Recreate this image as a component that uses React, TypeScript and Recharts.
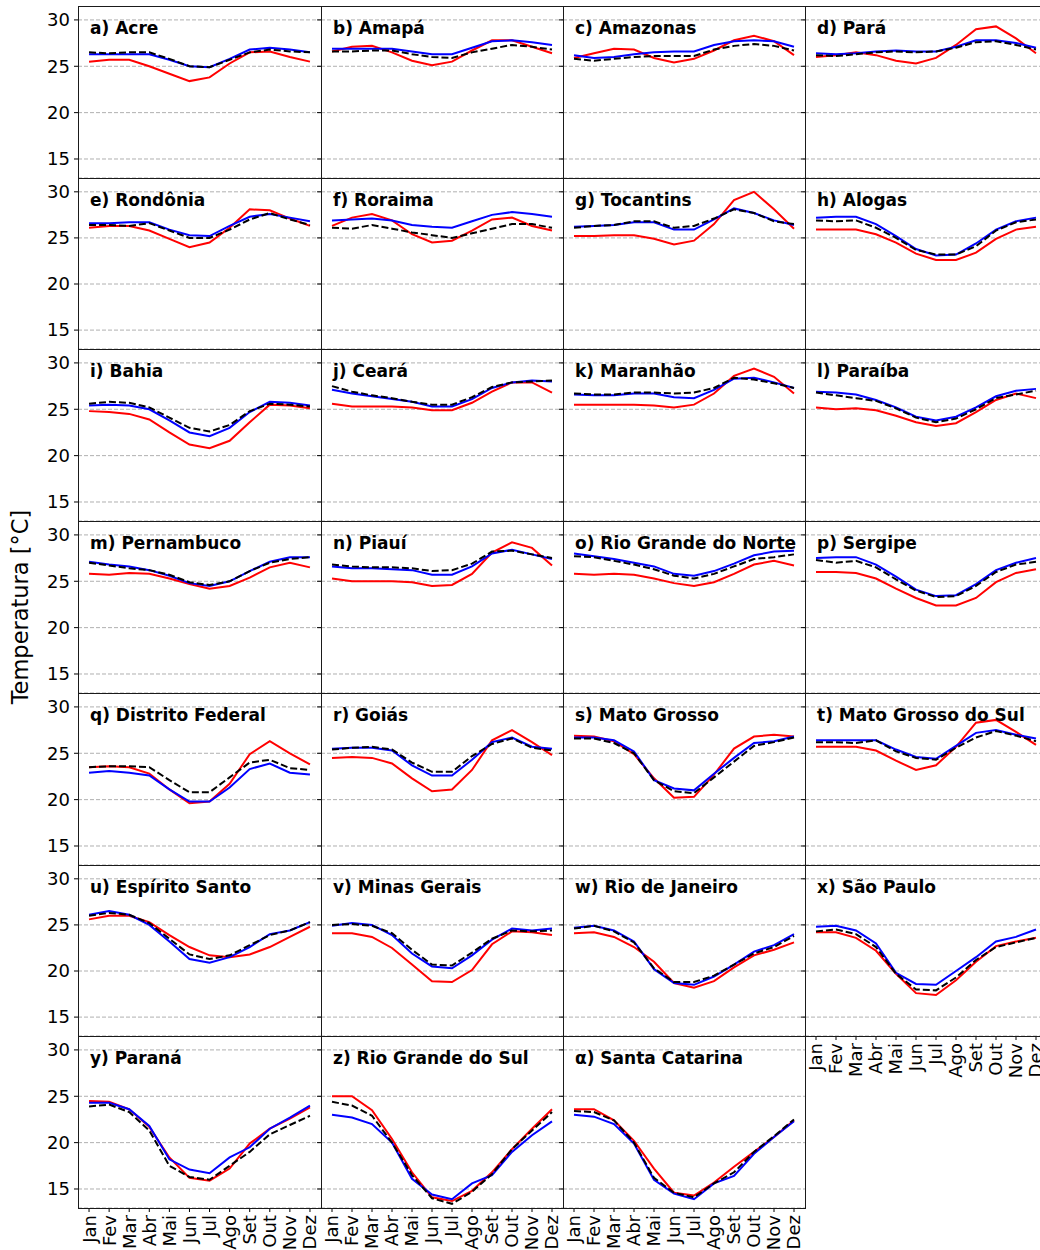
import React from 'react';
import { LineChart, Line, XAxis, YAxis, CartesianGrid } from 'recharts';

const months = ['Jan', 'Fev', 'Mar', 'Abr', 'Mai', 'Jun', 'Jul', 'Ago', 'Set', 'Out', 'Nov', 'Dez'];
const monthIdx = months.map((_, i) => i);
const yTicks = [15, 20, 25, 30];

// red / blue / black dashed series per state (monthly mean temperature, °C)
const acreRed = [25.5, 25.7, 25.7, 25.0, 24.2, 23.4, 23.8, 25.3, 26.5, 26.6, 26.0, 25.5];
const acreBlue = [26.3, 26.3, 26.3, 26.3, 25.7, 25.0, 24.9, 25.8, 26.8, 27.0, 26.8, 26.5];
const acreBlack = [26.5, 26.4, 26.5, 26.5, 25.8, 25.0, 24.9, 25.7, 26.5, 26.8, 26.6, 26.5];

const amapaRed = [26.6, 27.1, 27.2, 26.5, 25.6, 25.1, 25.5, 26.7, 27.8, 27.8, 27.1, 26.4];
const amapaBlue = [26.9, 26.9, 26.9, 26.9, 26.6, 26.3, 26.3, 27.0, 27.7, 27.8, 27.6, 27.3];
const amapaBlack = [26.6, 26.6, 26.7, 26.7, 26.3, 26.0, 25.9, 26.5, 26.9, 27.3, 27.1, 26.8];

const amazonasRed = [25.9, 26.4, 26.9, 26.8, 25.9, 25.4, 25.8, 26.7, 27.8, 28.3, 27.7, 26.2];
const amazonasBlue = [26.2, 25.9, 26.0, 26.3, 26.5, 26.6, 26.6, 27.3, 27.7, 27.8, 27.7, 27.1];
const amazonasBlack = [25.8, 25.6, 25.8, 26.0, 26.1, 26.1, 26.1, 26.8, 27.2, 27.4, 27.2, 26.7];

const paraRed = [26.0, 26.2, 26.5, 26.2, 25.6, 25.3, 25.9, 27.3, 29.0, 29.3, 28.0, 26.4];
const paraBlue = [26.4, 26.3, 26.4, 26.6, 26.7, 26.6, 26.6, 27.1, 27.8, 27.8, 27.5, 27.0];
const paraBlack = [26.2, 26.1, 26.3, 26.5, 26.6, 26.5, 26.6, 27.0, 27.6, 27.7, 27.3, 26.8];

const rondoniaRed = [26.1, 26.3, 26.3, 25.8, 24.9, 24.0, 24.5, 26.1, 28.1, 28.0, 27.1, 26.3];
const rondoniaBlue = [26.6, 26.6, 26.7, 26.7, 25.9, 25.3, 25.2, 26.3, 27.3, 27.6, 27.2, 26.8];
const rondoniaBlack = [26.4, 26.4, 26.3, 26.6, 25.8, 25.0, 25.0, 25.9, 27.0, 27.7, 27.0, 26.4];

const roraimaRed = [26.3, 27.2, 27.6, 26.9, 25.4, 24.5, 24.7, 25.8, 27.0, 27.2, 26.3, 25.8];
const roraimaBlue = [26.9, 27.0, 27.1, 26.9, 26.4, 26.2, 26.1, 26.8, 27.5, 27.8, 27.6, 27.3];
const roraimaBlack = [26.1, 26.0, 26.4, 26.0, 25.6, 25.3, 25.0, 25.5, 26.0, 26.5, 26.5, 26.1];

const tocantinsRed = [25.2, 25.2, 25.3, 25.3, 24.9, 24.3, 24.7, 26.5, 29.1, 30.0, 28.1, 26.0];
const tocantinsBlue = [26.2, 26.3, 26.4, 26.7, 26.7, 25.9, 25.9, 27.0, 28.2, 27.7, 26.9, 26.4];
const tocantinsBlack = [26.1, 26.3, 26.4, 26.8, 26.8, 26.1, 26.3, 27.1, 28.1, 27.7, 26.8, 26.5];

const alagoasRed = [25.9, 25.9, 25.9, 25.4, 24.5, 23.3, 22.6, 22.6, 23.4, 24.9, 25.9, 26.2];
const alagoasBlue = [27.2, 27.3, 27.3, 26.5, 25.2, 23.8, 23.1, 23.2, 24.4, 25.9, 26.8, 27.2];
const alagoasBlack = [26.9, 26.8, 26.9, 26.1, 25.0, 23.7, 23.2, 23.2, 24.1, 25.8, 26.7, 27.0];

const bahiaRed = [24.8, 24.7, 24.5, 23.9, 22.5, 21.2, 20.8, 21.6, 23.6, 25.5, 25.4, 25.1];
const bahiaBlue = [25.4, 25.5, 25.4, 25.0, 23.8, 22.5, 22.1, 23.0, 24.7, 25.8, 25.7, 25.4];
const bahiaBlack = [25.6, 25.8, 25.7, 25.2, 24.1, 23.0, 22.6, 23.3, 24.8, 25.6, 25.5, 25.3];

const cearaRed = [25.6, 25.3, 25.3, 25.3, 25.2, 24.9, 24.9, 25.7, 26.9, 27.9, 27.9, 26.8];
const cearaBlue = [27.1, 26.7, 26.4, 26.1, 25.8, 25.3, 25.3, 26.1, 27.3, 27.9, 28.1, 28.0];
const cearaBlack = [27.5, 26.9, 26.5, 26.2, 25.8, 25.5, 25.5, 26.3, 27.4, 27.9, 28.0, 28.1];

const maranhaoRed = [25.5, 25.5, 25.5, 25.5, 25.4, 25.2, 25.5, 26.7, 28.6, 29.4, 28.5, 26.7];
const maranhaoBlue = [26.6, 26.5, 26.5, 26.7, 26.7, 26.3, 26.2, 27.1, 28.3, 28.4, 27.9, 27.3];
const maranhaoBlack = [26.7, 26.6, 26.6, 26.8, 26.8, 26.7, 26.8, 27.3, 28.4, 28.2, 27.8, 27.3];

const paraibaRed = [25.2, 25.0, 25.1, 24.9, 24.3, 23.6, 23.2, 23.5, 24.7, 26.0, 26.7, 26.2];
const paraibaBlue = [26.9, 26.8, 26.6, 26.0, 25.2, 24.2, 23.8, 24.2, 25.2, 26.4, 27.0, 27.2];
const paraibaBlack = [26.8, 26.5, 26.2, 25.9, 25.1, 24.1, 23.6, 24.0, 25.0, 26.2, 26.6, 27.0];

const pernambucoRed = [25.8, 25.7, 25.9, 25.8, 25.3, 24.7, 24.2, 24.5, 25.4, 26.5, 27.0, 26.5];
const pernambucoBlue = [27.1, 26.8, 26.6, 26.2, 25.6, 24.8, 24.5, 25.0, 26.1, 27.1, 27.6, 27.6];
const pernambucoBlack = [27.0, 26.7, 26.4, 26.2, 25.7, 24.9, 24.6, 25.0, 26.1, 27.0, 27.4, 27.6];

const piauiRed = [25.3, 25.0, 25.0, 25.0, 24.9, 24.5, 24.6, 25.8, 28.1, 29.2, 28.6, 26.7];
const piauiBlue = [26.6, 26.4, 26.4, 26.3, 26.2, 25.7, 25.7, 26.6, 28.0, 28.4, 27.9, 27.4];
const piauiBlack = [26.8, 26.6, 26.5, 26.5, 26.4, 26.1, 26.2, 26.9, 28.2, 28.3, 27.9, 27.5];

const rnRed = [25.8, 25.7, 25.8, 25.7, 25.3, 24.8, 24.5, 24.9, 25.8, 26.8, 27.2, 26.7];
const rnBlue = [28.0, 27.7, 27.4, 27.0, 26.6, 25.8, 25.6, 26.1, 26.9, 27.8, 28.2, 28.3];
const rnBlack = [27.7, 27.6, 27.2, 26.8, 26.3, 25.6, 25.3, 25.8, 26.6, 27.4, 27.6, 27.9];

const sergipeRed = [26.0, 26.0, 25.9, 25.3, 24.2, 23.2, 22.4, 22.4, 23.2, 24.9, 25.9, 26.3];
const sergipeBlue = [27.5, 27.6, 27.6, 26.8, 25.5, 24.1, 23.4, 23.5, 24.7, 26.2, 27.0, 27.5];
const sergipeBlack = [27.3, 27.0, 27.2, 26.5, 25.2, 24.0, 23.3, 23.4, 24.5, 26.0, 26.8, 27.1];

const dfRed = [23.5, 23.6, 23.5, 22.8, 21.1, 19.6, 19.8, 21.7, 24.9, 26.3, 25.0, 23.8];
const dfBlue = [22.9, 23.1, 22.9, 22.6, 21.1, 19.8, 19.8, 21.3, 23.3, 23.9, 22.9, 22.7];
const dfBlack = [23.5, 23.6, 23.6, 23.5, 22.1, 20.8, 20.8, 22.4, 24.0, 24.3, 23.4, 23.2];

const goiasRed = [24.5, 24.6, 24.5, 23.9, 22.3, 20.9, 21.1, 23.2, 26.4, 27.5, 26.2, 24.8];
const goiasBlue = [25.5, 25.6, 25.6, 25.3, 23.7, 22.6, 22.6, 24.3, 26.2, 26.7, 25.7, 25.5];
const goiasBlack = [25.4, 25.6, 25.7, 25.4, 24.0, 23.0, 23.0, 24.7, 26.0, 26.6, 25.6, 25.3];

const mtRed = [26.9, 26.8, 26.3, 24.9, 22.3, 20.2, 20.3, 22.7, 25.5, 26.8, 27.0, 26.8];
const mtBlue = [26.7, 26.7, 26.4, 25.2, 22.1, 21.2, 21.0, 22.8, 24.5, 26.1, 26.3, 26.8];
const mtBlack = [26.6, 26.6, 26.1, 25.0, 22.1, 20.9, 20.7, 22.4, 24.1, 25.8, 26.2, 26.7];

const msRed = [25.7, 25.7, 25.7, 25.3, 24.2, 23.2, 23.7, 25.7, 28.3, 28.6, 27.3, 25.9];
const msBlue = [26.4, 26.4, 26.4, 26.4, 25.4, 24.6, 24.4, 25.8, 27.2, 27.5, 27.0, 26.6];
const msBlack = [26.2, 26.2, 26.1, 26.4, 25.2, 24.5, 24.3, 25.6, 26.7, 27.4, 26.9, 26.3];

const esRed = [25.6, 26.0, 26.0, 25.3, 23.9, 22.6, 21.7, 21.5, 21.8, 22.6, 23.7, 24.8];
const esBlue = [26.1, 26.5, 26.1, 25.0, 23.2, 21.3, 20.9, 21.5, 22.6, 24.0, 24.4, 25.3];
const esBlack = [26.0, 26.3, 26.1, 25.2, 23.5, 21.8, 21.3, 21.7, 22.8, 23.9, 24.4, 25.3];

const mgRed = [24.1, 24.1, 23.7, 22.5, 20.7, 18.9, 18.8, 20.1, 22.9, 24.3, 24.2, 23.9];
const mgBlue = [24.9, 25.2, 25.0, 23.9, 21.9, 20.5, 20.3, 21.7, 23.4, 24.6, 24.4, 24.6];
const mgBlack = [25.0, 25.1, 24.9, 24.1, 22.3, 20.7, 20.6, 22.0, 23.5, 24.4, 24.3, 24.4];

const rjRed = [24.1, 24.2, 23.7, 22.6, 21.0, 18.7, 18.2, 18.9, 20.4, 21.7, 22.3, 23.1];
const rjBlue = [24.7, 24.9, 24.4, 23.2, 20.2, 18.7, 18.5, 19.4, 20.7, 22.1, 22.8, 24.0];
const rjBlack = [24.6, 24.9, 24.3, 23.1, 20.3, 18.8, 18.8, 19.5, 20.7, 21.9, 22.6, 23.8];

const spRed = [24.2, 24.2, 23.6, 22.2, 19.7, 17.6, 17.4, 19.0, 21.0, 22.7, 23.2, 23.6];
const spBlue = [24.8, 24.9, 24.4, 23.0, 19.8, 18.6, 18.5, 20.0, 21.5, 23.2, 23.7, 24.5];
const spBlack = [24.3, 24.5, 24.0, 22.6, 19.7, 18.0, 17.9, 19.3, 21.2, 22.6, 23.1, 23.6];

const prRed = [24.5, 24.4, 23.6, 21.7, 18.4, 16.2, 15.9, 17.2, 19.9, 21.5, 22.6, 23.8];
const prBlue = [24.3, 24.3, 23.6, 21.8, 18.2, 17.1, 16.7, 18.4, 19.5, 21.5, 22.7, 24.0];
const prBlack = [23.9, 24.1, 23.3, 21.3, 17.5, 16.3, 16.0, 17.5, 19.0, 20.9, 21.9, 22.9];

const rsRed = [25.0, 25.0, 23.5, 20.4, 16.8, 14.1, 13.7, 14.8, 16.8, 19.3, 21.5, 23.6];
const rsBlue = [23.0, 22.7, 22.0, 20.0, 16.1, 14.4, 13.9, 15.6, 16.5, 19.0, 20.8, 22.3];
const rsBlack = [24.4, 24.0, 22.9, 20.0, 16.5, 14.0, 13.4, 14.7, 16.6, 19.3, 21.3, 23.3];

const scRed = [23.6, 23.6, 22.4, 20.2, 17.2, 14.6, 14.3, 15.7, 17.4, 19.0, 20.6, 22.4];
const scBlue = [23.0, 22.8, 22.0, 19.9, 16.0, 14.5, 13.9, 15.6, 16.4, 18.8, 20.6, 22.3];
const scBlack = [23.4, 23.3, 22.4, 20.0, 16.2, 14.6, 14.1, 15.6, 16.8, 19.0, 20.7, 22.5];

const panels = [
  { title: 'a) Acre', red: acreRed, blue: acreBlue, black: acreBlack },
  { title: 'b) Amapá', red: amapaRed, blue: amapaBlue, black: amapaBlack },
  { title: 'c) Amazonas', red: amazonasRed, blue: amazonasBlue, black: amazonasBlack },
  { title: 'd) Pará', red: paraRed, blue: paraBlue, black: paraBlack },
  { title: 'e) Rondônia', red: rondoniaRed, blue: rondoniaBlue, black: rondoniaBlack },
  { title: 'f) Roraima', red: roraimaRed, blue: roraimaBlue, black: roraimaBlack },
  { title: 'g) Tocantins', red: tocantinsRed, blue: tocantinsBlue, black: tocantinsBlack },
  { title: 'h) Alogas', red: alagoasRed, blue: alagoasBlue, black: alagoasBlack },
  { title: 'i) Bahia', red: bahiaRed, blue: bahiaBlue, black: bahiaBlack },
  { title: 'j) Ceará', red: cearaRed, blue: cearaBlue, black: cearaBlack },
  { title: 'k) Maranhão', red: maranhaoRed, blue: maranhaoBlue, black: maranhaoBlack },
  { title: 'l) Paraíba', red: paraibaRed, blue: paraibaBlue, black: paraibaBlack },
  { title: 'm) Pernambuco', red: pernambucoRed, blue: pernambucoBlue, black: pernambucoBlack },
  { title: 'n) Piauí', red: piauiRed, blue: piauiBlue, black: piauiBlack },
  { title: 'o) Rio Grande do Norte', red: rnRed, blue: rnBlue, black: rnBlack },
  { title: 'p) Sergipe', red: sergipeRed, blue: sergipeBlue, black: sergipeBlack },
  { title: 'q) Distrito Federal', red: dfRed, blue: dfBlue, black: dfBlack },
  { title: 'r) Goiás', red: goiasRed, blue: goiasBlue, black: goiasBlack },
  { title: 's) Mato Grosso', red: mtRed, blue: mtBlue, black: mtBlack },
  { title: 't) Mato Grosso do Sul', red: msRed, blue: msBlue, black: msBlack },
  { title: 'u) Espírito Santo', red: esRed, blue: esBlue, black: esBlack },
  { title: 'v) Minas Gerais', red: mgRed, blue: mgBlue, black: mgBlack },
  { title: 'w) Rio de Janeiro', red: rjRed, blue: rjBlue, black: rjBlack },
  { title: 'x) São Paulo', red: spRed, blue: spBlue, black: spBlack },
  { title: 'y) Paraná', red: prRed, blue: prBlue, black: prBlack },
  { title: 'z) Rio Grande do Sul', red: rsRed, blue: rsBlue, black: rsBlack },
  { title: 'α) Santa Catarina', red: scRed, blue: scBlue, black: scBlack },
];

const FONT = "'DejaVu Sans', sans-serif";
const colLeft = [78, 321, 563, 805];
const colRight = [321, 563, 805, 1047];
const rowTop = [6, 178, 349, 521, 693, 865, 1036, 1208];
const X_AXIS_H = 50;

const MonthTick = (props: any) => {
  const { x, y, payload } = props;
  return (
    <text
      x={x}
      y={y}
      transform={`rotate(-90 ${x} ${y})`}
      textAnchor="end"
      dy="0.36em"
      fontSize={18}
      fontFamily={FONT}
      fill="#000"
    >
      {months[payload.value]}
    </text>
  );
};

const Panel = ({ p, index }: { p: any; index: number }) => {
  const col = index % 4;
  const row = Math.floor(index / 4);
  const top = rowTop[row];
  const h = rowTop[row + 1] - top;
  const showX = row === 6 || (row === 5 && col === 3);
  const yw = col === 0 ? 78 : 6;
  const plotW = colRight[col] - colLeft[col];
  const data = months.map((m, i) => ({ i, red: p.red[i], blue: p.blue[i], black: p.black[i] }));

  return (
    <>
      <div style={{ position: 'absolute', left: colLeft[col] - yw, top }}>
        <LineChart
          width={plotW + yw}
          height={h + (showX ? X_AXIS_H : 0)}
          data={data}
          margin={{ top: 0, right: 0, bottom: 0, left: 0 }}
        >
          <CartesianGrid vertical={false} stroke="#b0b0b0" strokeDasharray="4 2" />
          <XAxis
            dataKey="i"
            type="number"
            domain={[-0.55, 11.55]}
            ticks={monthIdx}
            interval={0}
            hide={!showX}
            height={X_AXIS_H}
            axisLine={false}
            tickLine={{ stroke: '#000' }}
            tickSize={4}
            tickMargin={3}
            tick={<MonthTick />}
            allowDataOverflow
          />
          <YAxis
            type="number"
            domain={[12.95, 31.5]}
            ticks={yTicks}
            width={yw}
            axisLine={false}
            tickLine={{ stroke: '#000' }}
            tickSize={4}
            tickMargin={4}
            tick={{ fontSize: 18, fill: '#000', fontFamily: FONT }}
            tickFormatter={(v: number) => (col === 0 ? String(v) : '')}
            allowDataOverflow
          />
          <Line dataKey="red" stroke="#ff0000" strokeWidth={2} dot={false} isAnimationActive={false} />
          <Line dataKey="blue" stroke="#0000ff" strokeWidth={2} dot={false} isAnimationActive={false} />
          <Line dataKey="black" stroke="#000000" strokeWidth={2} strokeDasharray="7 3" dot={false} isAnimationActive={false} />
        </LineChart>
      </div>
      <div
        style={{
          position: 'absolute',
          left: colLeft[col],
          top,
          width: plotW + 1,
          height: h + 1,
          border: '1px solid #1a1a1a',
          boxSizing: 'border-box',
          pointerEvents: 'none',
        }}
      />
      <div
        style={{
          position: 'absolute',
          left: colLeft[col] + 12,
          top: top + 14,
          fontSize: 17,
          lineHeight: '17px',
          fontWeight: 'bold',
          whiteSpace: 'nowrap',
          color: '#000',
        }}
      >
        {p.title}
      </div>
    </>
  );
};

export default function App() {
  return (
    <div
      style={{
        position: 'absolute',
        left: 0,
        top: 0,
        width: 1040,
        height: 1250,
        overflow: 'hidden',
        background: '#fff',
        fontFamily: FONT,
      }}
    >
      {panels.map((p, i) => (
        <Panel key={p.title} p={p} index={i} />
      ))}
      <div
        style={{
          position: 'absolute',
          left: 20,
          top: 607,
          transform: 'translate(-50%, -50%) rotate(-90deg)',
          fontSize: 22.5,
          whiteSpace: 'nowrap',
          color: '#000',
        }}
      >
        Temperatura [°C]
      </div>
    </div>
  );
}
